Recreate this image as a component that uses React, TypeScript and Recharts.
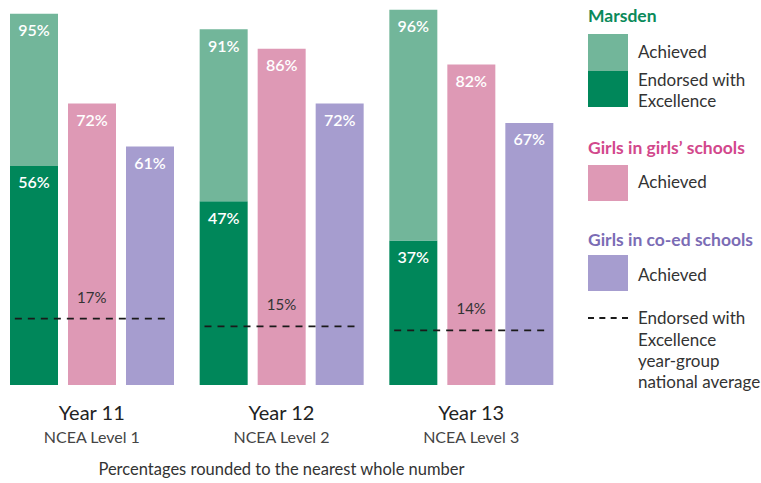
import React from 'react';
import { ComposedChart, Bar, Scatter, XAxis, YAxis, LabelList } from 'recharts';

const years = ['Year 11', 'Year 12', 'Year 13'];
const levels = ['NCEA Level 1', 'NCEA Level 2', 'NCEA Level 3'];
const marsdenAchieved = [95, 91, 96];
const marsdenExcellence = [56, 47, 37];
const girlsSchools = [72, 86, 82];
const coedSchools = [61, 72, 67];
const nationalExcellence = [17, 15, 14];

const GREEN_LIGHT = '#72b69a';
const GREEN_DARK = '#00875a';
const PINK = '#de99b5';
const PURPLE = '#a69dcf';
const FONT = 'Lato, "Open Sans", sans-serif';

const data = years.map((year, i) => ({
  year,
  level: levels[i],
  marsdenAchieved: marsdenAchieved[i],
  marsdenExcellence: marsdenExcellence[i],
  marsdenRest: marsdenAchieved[i] - marsdenExcellence[i],
  girls: girlsSchools[i],
  coed: coedSchools[i],
  national: nationalExcellence[i],
}));

const pct = (v: any) => `${v}%`;

const YearTick = (props: any) => {
  const { x, y, payload } = props;
  const level = levels[years.indexOf(payload.value)];
  return (
    <g>
      <text x={x} y={y + 27} textAnchor="middle" fill="#222" fontSize={20} fontFamily={FONT}>
        {payload.value}
      </text>
      <text x={x} y={y + 50} textAnchor="middle" fill="#444" fontSize={16} fontFamily={FONT}>
        {level}
      </text>
    </g>
  );
};

const NationalLine = (props: any) => {
  const { cx, cy, payload } = props;
  if (cx == null || cy == null) return null;
  return (
    <g>
      <line x1={cx - 77} x2={cx + 77} y1={cy} y2={cy} stroke="#1a1a1a" strokeWidth={1.8} strokeDasharray="7 6" />
      <text x={cx} y={cy - 16} textAnchor="middle" fill="#333" fontSize={15} fontFamily={FONT}>
        {`${payload.national}%`}
      </text>
    </g>
  );
};

const abs = (left: number, top: number, extra: React.CSSProperties = {}): React.CSSProperties => ({
  position: 'absolute',
  left,
  top,
  ...extra,
});

const LegendText = ({ left, center, text, color = '#333', bold = false }: any) => (
  <div
    style={abs(left, center - 11, {
      height: 22,
      lineHeight: '22px',
      fontSize: bold ? 17.5 : 17,
      color,
      fontWeight: bold ? 700 : 400,
      whiteSpace: 'nowrap',
    })}
  >
    {text}
  </div>
);

const Swatch = ({ top, bottom, color }: any) => (
  <div style={abs(588, top, { width: 40, height: bottom - top, background: color })} />
);

export default function App() {
  return (
    <div
      style={{
        position: 'absolute',
        left: 0,
        top: 0,
        width: 761,
        height: 483,
        background: '#fff',
        overflow: 'hidden',
        fontFamily: FONT,
      }}
    >
      <div style={abs(-3, 0)}>
        <ComposedChart
          width={569}
          height={483}
          data={data}
          margin={{ top: 0, right: 0, bottom: 0, left: 0 }}
          barSize={48}
          barGap={10}
        >
          <XAxis
            dataKey="year"
            axisLine={false}
            tickLine={false}
            height={98}
            interval={0}
            tick={<YearTick />}
          />
          <YAxis hide domain={[0, 98.5]} />
          <Bar dataKey="marsdenExcellence" stackId="m" fill={GREEN_DARK} isAnimationActive={false}>
            <LabelList
              dataKey="marsdenExcellence"
              position="insideTop"
              offset={11}
              formatter={pct}
              fill="#fff"
              fontSize={16}
              fontWeight={600}
              fontFamily={FONT}
            />
          </Bar>
          <Bar dataKey="marsdenRest" stackId="m" fill={GREEN_LIGHT} isAnimationActive={false}>
            <LabelList
              dataKey="marsdenAchieved"
              position="insideTop"
              offset={11}
              formatter={pct}
              fill="#fff"
              fontSize={16}
              fontWeight={600}
              fontFamily={FONT}
            />
          </Bar>
          <Bar dataKey="girls" fill={PINK} isAnimationActive={false}>
            <LabelList
              dataKey="girls"
              position="insideTop"
              offset={11}
              formatter={pct}
              fill="#fff"
              fontSize={16}
              fontWeight={600}
              fontFamily={FONT}
            />
          </Bar>
          <Bar dataKey="coed" fill={PURPLE} isAnimationActive={false}>
            <LabelList
              dataKey="coed"
              position="insideTop"
              offset={11}
              formatter={pct}
              fill="#fff"
              fontSize={16}
              fontWeight={600}
              fontFamily={FONT}
            />
          </Bar>
          <Scatter dataKey="national" shape={<NationalLine />} isAnimationActive={false} />
        </ComposedChart>
      </div>

      <LegendText left={588} center={16} text="Marsden" color="#0a8a5a" bold />
      <Swatch top={34} bottom={71} color={GREEN_LIGHT} />
      <Swatch top={71} bottom={107} color={GREEN_DARK} />
      <LegendText left={638} center={52} text="Achieved" />
      <LegendText left={638} center={80} text="Endorsed with" />
      <LegendText left={638} center={101} text="Excellence" />

      <LegendText left={588} center={148} text="Girls in girls’ schools" color="#d2488c" bold />
      <Swatch top={165} bottom={201} color={PINK} />
      <LegendText left={638} center={182} text="Achieved" />

      <LegendText left={588} center={240} text="Girls in co-ed schools" color="#7b6cb5" bold />
      <Swatch top={255} bottom={291} color={PURPLE} />
      <LegendText left={638} center={275} text="Achieved" />

      <div style={abs(588, 317, { width: 40, height: 0, borderTop: '2px dashed #1a1a1a' })} />
      <LegendText left={638} center={318} text="Endorsed with" />
      <LegendText left={638} center={340} text="Excellence" />
      <LegendText left={638} center={361} text="year-group" />
      <LegendText left={638} center={382} text="national average" />

      <div
        style={abs(0, 458, {
          width: 563,
          textAlign: 'center',
          fontSize: 16.5,
          lineHeight: '22px',
          color: '#333',
        })}
      >
        Percentages rounded to the nearest whole number
      </div>
    </div>
  );
}
